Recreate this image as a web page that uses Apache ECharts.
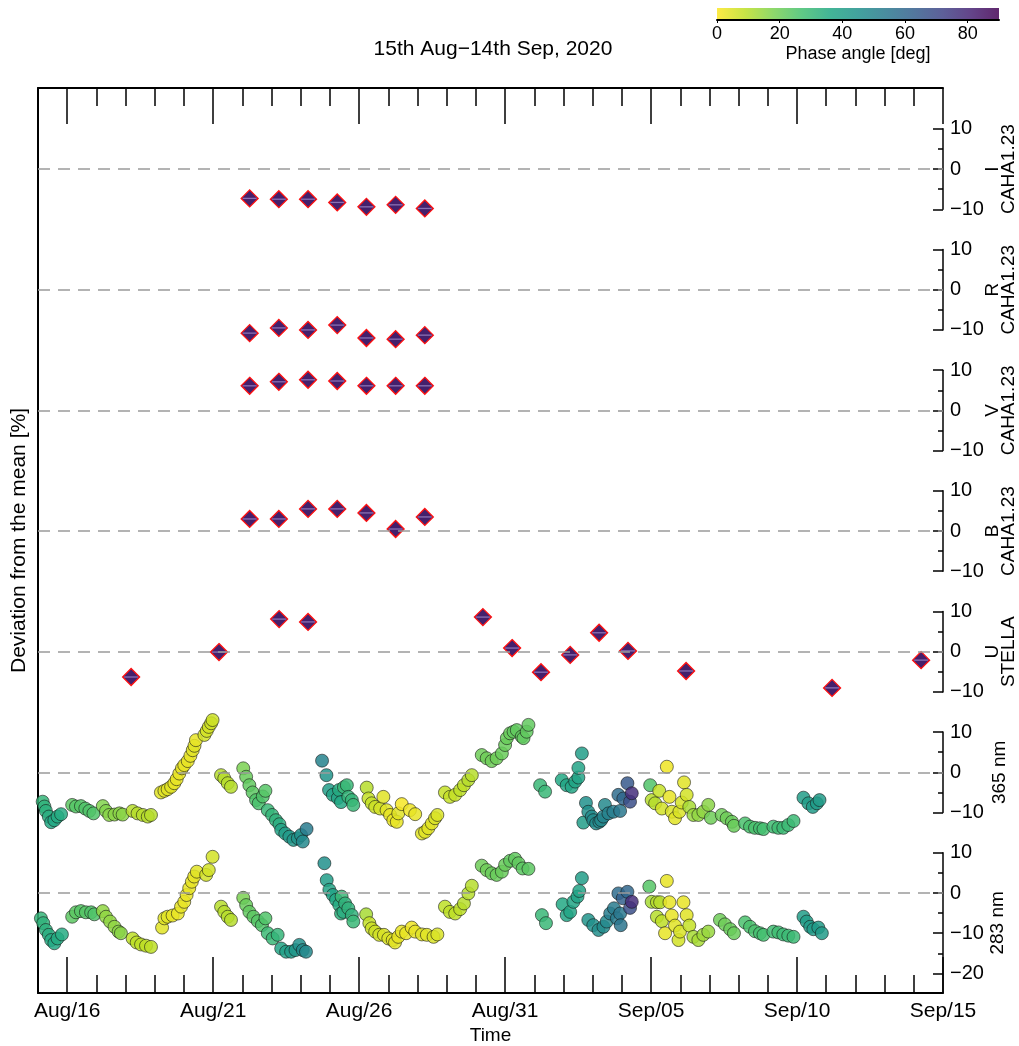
<!DOCTYPE html>
<html><head><meta charset="utf-8">
<script src="https://cdn.jsdelivr.net/npm/echarts@6/dist/echarts.min.js"></script>
<style>html,body{margin:0;padding:0;background:#fff}#c{width:1019px;height:1046px}</style>
</head><body><div id="c"></div>
<script>
// ---------- DATA (x = days since 2020-08-15 00:00 UTC) ----------
const xTickDays   = [1, 6, 11, 16, 21, 26, 31];
const xTickLabels = ['Aug/16', 'Aug/21', 'Aug/26', 'Aug/31', 'Sep/05', 'Sep/10', 'Sep/15'];
const xMinorDays  = [0,2,3,4,5,7,8,9,10,12,13,14,15,17,18,19,20,22,23,24,25,27,28,29,30];

const panelNames = ['I\nCAHA1.23', 'R\nCAHA1.23', 'V\nCAHA1.23', 'B\nCAHA1.23', 'U\nSTELLA', '365 nm', '283 nm'];

const cahaDays = [7.25, 8.25, 9.25, 10.25, 11.25, 12.25, 13.25];
const cahaI = [-7.3, -7.5, -7.5, -8.3, -9.4, -8.9, -9.8];
const cahaR = [-10.8, -9.5, -10.0, -8.8, -12.0, -12.3, -11.3];
const cahaV = [6.1, 7.1, 7.6, 7.3, 6.1, 6.1, 6.1];
const cahaB = [3.0, 3.0, 5.5, 5.5, 4.5, 0.5, 3.5];

const stellaDays = [3.19, 6.20, 8.26, 9.25, 15.24, 16.24, 17.23, 18.23, 19.22, 20.21, 22.20, 27.20, 30.25];
const stellaU    = [-6.3, -0.1, 8.1, 7.4, 8.6, 0.9, -5.1, -0.8, 4.7, 0.2, -4.8, -9.0, -2.1];

// [day, deviation %, phase angle deg]
const uv365 = [
[0.16,-7.3,31],[0.22,-8.5,32],[0.27,-9.6,33],[0.37,-11.0,34],[0.45,-12.4,36],[0.56,-11.9,36],[0.67,-11.0,35],[0.79,-10.4,35],
[1.17,-8.1,23],[1.30,-8.5,24],[1.47,-8.4,24],[1.62,-9.0,25],[1.76,-9.6,25],[1.90,-10.2,25],
[2.22,-8.4,17],[2.33,-9.6,17],[2.44,-10.6,16],[2.62,-10.5,16],[2.79,-10.2,16],[2.90,-10.5,16],
[3.24,-9.6,10],[3.41,-10.2,10],[3.59,-10.6,10],[3.76,-11.0,10],[3.87,-10.6,10],
[4.21,-5.0,4],[4.33,-4.6,4],[4.44,-4.2,4],[4.56,-3.6,4],[4.67,-2.7,3],[4.75,-1.7,3],[4.84,-0.3,3],[4.93,1.0,3],[5.01,1.8,3],[5.13,2.8,3],[5.22,4.1,3],[5.30,5.5,4],[5.36,6.6,4],[5.41,8.0,3],[5.70,9.3,6],[5.78,10.3,6],[5.85,11.3,6],[5.93,12.2,7],[5.98,13.0,7],
[6.27,-0.7,10],[6.38,-1.5,10],[6.50,-2.7,10],[6.61,-3.6,10],
[7.03,1.0,18],[7.13,-1.1,21],[7.24,-3.2,22],[7.35,-5.0,23],[7.47,-6.9,25],[7.56,-7.7,26],[7.70,-6.0,25],[7.79,-4.6,24],[7.87,-9.4,30],[8.02,-10.6,31],[8.15,-11.9,32],[8.27,-12.9,34],[8.33,-14.3,38],[8.47,-15.2,40],[8.61,-16.0,42],[8.75,-16.8,43],[8.90,-16.4,44],[9.01,-15.6,45],[9.07,-17.2,48],[9.20,-14.1,53],
[9.73,2.9,50],[9.88,-0.7,44],[9.97,-4.4,40],[10.10,-5.6,38],[10.27,-6.4,37],[10.31,-4.4,35],[10.38,-7.4,36],[10.48,-3.7,30],[10.58,-3.2,30],[10.63,-6.1,31],[10.75,-6.9,31],[10.80,-8.1,30],
[11.26,-3.8,10],[11.32,-6.5,8],[11.43,-7.7,8],[11.55,-8.6,7],[11.72,-9.0,6],[11.83,-6.1,4],[11.94,-9.4,4],[12.06,-10.6,3],[12.17,-11.9,3],[12.29,-12.3,3],[12.34,-10.2,4],[12.46,-7.9,1],[12.74,-9.4,2],[12.92,-10.4,3],
[13.15,-15.2,4],[13.26,-14.8,4],[13.37,-13.9,4],[13.49,-12.7,4],[13.60,-11.4,5],[13.68,-10.6,5],
[13.94,-5.0,8],[14.11,-6.1,8],[14.29,-5.6,8],[14.46,-4.4,9],[14.59,-3.2,9],[14.74,-1.9,10],[14.86,-0.7,10],
[15.20,4.3,20],[15.37,3.5,20],[15.54,2.8,20],[15.71,3.5,20],[15.89,4.7,21],[16.00,6.8,21],[16.06,8.5,21],[16.17,9.7,21],[16.29,10.1,22],[16.40,10.5,22],[16.57,8.9,22],[16.63,8.5,22],[16.74,10.1,22],[16.80,11.8,22],
[17.20,-3.2,30],[17.37,-4.8,30],
[17.94,-1.9,36],[18.11,-3.2,37],[18.28,-3.6,37],[18.40,-2.3,37],[18.51,-1.3,38],[18.51,1.1,38],[18.63,4.7,40],
[18.68,-12.5,40],[18.77,-7.6,45],[18.85,-9.8,45],[18.97,-11.0,47],[19.02,-11.9,47],[19.12,-12.7,47],[19.23,-12.3,48],[19.29,-11.9,48],[19.37,-11.0,50],[19.42,-8.1,48],[19.54,-10.2,50],[19.71,-9.8,52],[19.88,-5.6,58],[19.94,-9.6,54],[20.05,-6.5,60],[20.19,-2.7,65],[20.28,-7.3,68],[20.34,-5.2,78],
[20.97,-3.2,25],[21.02,-6.9,10],[21.14,-7.7,10],[21.28,-4.6,8],[21.37,-9.0,6],[21.54,1.4,2],[21.63,-6.1,3],[21.71,-9.8,5],[21.82,-11.4,4],[21.97,-9.8,5],[22.05,-7.5,6],[22.13,-2.5,4],[22.22,-5.6,6],[22.31,-8.6,12],[22.45,-10.6,14],[22.62,-10.6,15],[22.79,-9.8,15],[22.96,-8.1,16],[23.05,-11.3,20],
[23.42,-10.6,20],[23.59,-11.4,20],[23.77,-12.3,21],[23.84,-13.3,21],
[24.22,-12.7,26],[24.39,-13.5,26],[24.56,-13.8,26],[24.73,-13.9,27],[24.85,-14.1,27],
[25.19,-13.5,28],[25.36,-13.8,28],[25.53,-13.8,29],[25.70,-13.1,29],[25.88,-12.1,29],
[26.22,-6.3,40],[26.39,-7.7,40],[26.54,-8.6,41],[26.68,-7.7,41],[26.77,-6.9,41]
];

const uv283 = [
[0.10,-6.3,31],[0.18,-7.5,32],[0.27,-9.2,33],[0.37,-10.4,34],[0.45,-11.7,35],[0.56,-12.5,36],[0.67,-11.3,35],[0.82,-10.3,35],
[1.17,-5.9,23],[1.30,-4.8,23],[1.47,-4.5,24],[1.64,-4.8,24],[1.82,-4.8,25],[1.93,-5.3,25],
[2.22,-4.5,15],[2.33,-5.9,15],[2.47,-7.1,15],[2.62,-8.4,15],[2.76,-9.6,16],[2.84,-10.0,16],
[3.24,-11.3,9],[3.38,-12.3,9],[3.53,-12.8,9],[3.70,-13.1,9],[3.87,-13.4,9],
[4.25,-8.6,4],[4.33,-6.3,4],[4.44,-5.9,4],[4.61,-5.6,3],[4.79,-5.1,3],[4.90,-3.4,3],[5.01,-2.2,3],[5.09,-0.5,3],[5.18,1.2,3],[5.27,2.8,3],[5.35,4.1,3],[5.44,5.3,4],[5.76,4.5,6],[5.85,5.7,6],[5.98,9.0,6],
[6.27,-3.4,10],[6.38,-4.7,10],[6.50,-5.9,10],[6.61,-6.7,10],
[7.03,-1.2,18],[7.13,-3.0,21],[7.24,-4.7,22],[7.38,-5.9,23],[7.53,-7.0,24],[7.67,-8.0,25],[7.79,-6.3,25],[7.87,-10.0,29],[8.04,-11.3,30],[8.21,-10.4,31],[8.33,-13.8,37],[8.50,-14.6,39],[8.67,-14.6,41],[8.82,-14.2,43],[8.95,-12.9,45],[9.07,-14.2,47],[9.18,-14.6,48],
[9.81,7.4,45],[9.89,3.2,40],[9.98,0.8,38],[10.10,-0.5,38],[10.21,-1.7,36],[10.32,-3.0,35],[10.38,-5.1,33],[10.40,-0.9,30],[10.46,-4.7,34],[10.52,-2.6,32],[10.63,-3.8,32],[10.75,-5.5,32],[10.80,-7.1,30],
[11.24,-5.3,12],[11.35,-7.5,8],[11.43,-8.8,7],[11.55,-9.6,7],[11.69,-10.4,6],[11.85,-10.4,5],[12.00,-11.3,5],[12.15,-11.7,4],[12.23,-12.3,4],[12.34,-10.9,3],[12.46,-9.6,3],[12.61,-10.0,3],[12.80,-8.6,2],[12.92,-9.6,3],[13.15,-10.3,4],[13.32,-10.4,4],[13.55,-10.9,5],[13.68,-10.3,5],
[13.94,-3.4,9],[14.11,-4.7,9],[14.29,-5.1,9],[14.46,-4.0,9],[14.59,-2.6,10],[14.74,-0.1,10],[14.86,1.8,10],
[15.20,6.8,20],[15.37,5.7,20],[15.54,4.9,21],[15.71,4.5,21],[15.89,5.3,21],[16.00,7.0,21],[16.17,8.0,22],[16.34,8.5,22],[16.46,7.4,22],[16.60,6.1,23],[16.80,6.0,23],
[17.26,-5.5,30],[17.40,-7.5,30],
[17.97,-2.8,36],[18.11,-5.5,37],[18.23,-4.7,37],[18.34,-2.2,37],[18.48,-0.9,38],[18.54,0.5,38],[18.63,3.7,40],
[18.85,-6.7,44],[19.02,-8.0,45],[19.20,-9.2,46],[19.37,-8.4,47],[19.48,-7.1,48],[19.60,-5.1,52],[19.73,-3.8,53],[19.83,-6.3,53],[19.88,-0.1,58],[19.94,-5.1,54],[19.96,-8.0,55],[20.03,-1.3,62],[20.19,0.3,60],[20.28,-3.7,68],[20.34,-2.2,78],
[20.94,1.6,24],[21.02,-2.2,12],[21.20,-2.3,10],[21.20,-5.9,10],[21.31,-2.3,10],[21.37,-7.0,9],[21.48,-10.0,3],[21.54,3.0,3],[21.63,-2.3,3],[21.71,-5.6,3],[21.82,-8.1,4],[21.94,-11.7,6],[21.99,-9.6,5],[22.11,-2.3,3],[22.22,-5.5,4],[22.31,-8.1,8],[22.45,-10.9,12],[22.62,-11.7,12],[22.79,-10.4,13],[22.96,-9.6,14],
[23.36,-6.7,20],[23.53,-7.8,20],[23.71,-9.0,21],[23.84,-10.0,21],
[24.22,-7.3,26],[24.39,-8.4,26],[24.56,-9.5,26],[24.73,-10.0,27],[24.85,-10.4,27],
[25.19,-9.6,28],[25.36,-9.8,28],[25.53,-10.3,29],[25.70,-10.6,29],[25.88,-10.9,29],
[26.22,-5.9,40],[26.33,-7.1,40],[26.45,-8.4,41],[26.56,-9.0,41],[26.73,-8.6,41],[26.85,-10.0,41]
];

const phaseTicks = [0, 20, 40, 60, 80];
const viridisR = ['#fde725','#bddf26','#7ad151','#44bf70','#22a884','#21918c','#2a788e','#355f8d','#414487','#482475','#440154'];

// ---------- LAYOUT ----------
const FONT = '"Liberation Sans", Arial, Helvetica, sans-serif';
const L = 38, W = 905, TOP = 88, BOT = 993;
const PX = 4.022;                 // px per percent
const zeroY = [0,1,2,3,4,5,6].map(k => 893 - (6 - k) * 30 * PX);
const minus = v => v < 0 ? '\u2212' + Math.abs(v) : String(v);

const grids = [{left: L, top: TOP, width: W, height: BOT - TOP}];
const xAxes = [], yAxes = [], series = [];

const tickLine = {color: '#000', width: 1.5};
xAxes.push({gridIndex:0, type:'value', min:0, max:31, position:'bottom',
  axisLine:{show:true, onZero:false, lineStyle:{color:'#000', width:2}},
  axisTick:{show:true, inside:true, length:36, lineStyle:tickLine, customValues: xTickDays},
  axisLabel:{show:true, customValues: xTickDays, color:'#000', fontSize:21, fontFamily:FONT, margin:8,
    formatter: v => xTickLabels[xTickDays.indexOf(Math.round(v))] || ''},
  splitLine:{show:false},
  name:'Time', nameLocation:'middle', nameGap:33, nameMoveOverlap:false,
  nameTextStyle:{color:'#000', fontSize:19, fontFamily:FONT}});
xAxes.push({gridIndex:0, type:'value', min:0, max:31, position:'bottom',
  axisLine:{show:false, onZero:false}, axisTick:{show:true, inside:true, length:18, lineStyle:tickLine, customValues: xMinorDays},
  axisLabel:{show:false}, splitLine:{show:false}});
xAxes.push({gridIndex:0, type:'value', min:0, max:31, position:'top',
  axisLine:{show:true, onZero:false, lineStyle:{color:'#000', width:2}},
  axisTick:{show:true, inside:true, length:36, lineStyle:tickLine, customValues: xTickDays},
  axisLabel:{show:false}, splitLine:{show:false}});
xAxes.push({gridIndex:0, type:'value', min:0, max:31, position:'top',
  axisLine:{show:false, onZero:false}, axisTick:{show:true, inside:true, length:18, lineStyle:tickLine, customValues: xMinorDays},
  axisLabel:{show:false}, splitLine:{show:false}});
yAxes.push({gridIndex:0, type:'value', min:0, max:1, position:'left',
  axisLine:{show:true, onZero:false, lineStyle:{color:'#000', width:2}}, axisTick:{show:false}, axisLabel:{show:false}, splitLine:{show:false},
  name:'Deviation from the mean [%]', nameLocation:'middle', nameRotate:90, nameGap:8, nameMoveOverlap:false,
  nameTextStyle:{color:'#000', fontSize:21, fontFamily:FONT}});

const nameGaps = [42, 42, 42, 42, 42, 49, 47];
for (let k = 0; k < 7; k++) {
  const last = k === 6;
  const top = zeroY[k] - 10 * PX;
  const height = last ? BOT - top : 20 * PX;
  grids.push({left: L, width: W, top: top, height: height});
  const gi = k + 1;
  xAxes.push({gridIndex: gi, type:'value', min:0, max:31, show:false});
  const majors = last ? [-20, -10, 0, 10] : [-10, 0, 10];
  const minors = last ? [-15, -5, 5] : [-5, 5];
  const ymin = last ? -(BOT - zeroY[k]) / PX : -10;
  yAxes.push({gridIndex: gi, type:'value', min: ymin, max: 10, position:'right',
    axisLine:{show:true, onZero:false, lineStyle:{color:'#000', width:1.5}},
    axisTick:{show:true, inside:true, length:10, lineStyle:tickLine, customValues: majors},
    axisLabel:{show:true, customValues: majors, color:'#000', fontSize:20, fontFamily:FONT, margin:7, formatter: minus},
    splitLine:{show:false},
    name: panelNames[k], nameLocation:'middle', nameRotate:90, nameGap: nameGaps[k], nameMoveOverlap:false,
    nameTextStyle:{color:'#000', fontSize:19, fontFamily:FONT, lineHeight:16, align:'center'}});
  yAxes.push({gridIndex: gi, type:'value', min: ymin, max: 10, position:'right',
    axisLine:{show:false, onZero:false}, axisTick:{show:true, inside:true, length:5, lineStyle:tickLine, customValues: minors},
    axisLabel:{show:false}, splitLine:{show:false}});
}
const panelX = k => 4 + k;
const panelY = k => 1 + 2 * k;

const zeroLine = {silent:true, symbol:['none','none'], label:{show:false},
  lineStyle:{type:[12,8], color:'#9a9a9a', width:1.5}, data:[{yAxis:0}]};

function diamondSeries(k, days, vals) {
  const data = days.map((d, i) => [d, vals[i]]);
  series.push({type:'scatter', xAxisIndex: panelX(k), yAxisIndex: panelY(k), data,
    symbol:'diamond', symbolSize:17, clip:false, z:3,
    itemStyle:{color:'#44206c', opacity:1, borderColor:'#ff1010', borderWidth:1.3},
    markLine: zeroLine});
  series.push({type:'scatter', xAxisIndex: panelX(k), yAxisIndex: panelY(k), data,
    symbol:'rect', symbolSize:[14, 1.3], clip:false, z:4, silent:true,
    itemStyle:{color:'#8a70b4', opacity:1}});
}
diamondSeries(0, cahaDays, cahaI);
diamondSeries(1, cahaDays, cahaR);
diamondSeries(2, cahaDays, cahaV);
diamondSeries(3, cahaDays, cahaB);
diamondSeries(4, stellaDays, stellaU);

const uvStyle = {opacity:0.85, borderColor:'rgba(20,20,20,0.85)', borderWidth:0.8};
const s365 = series.length;
series.push({type:'scatter', xAxisIndex: panelX(5), yAxisIndex: panelY(5), data: uv365,
  symbolSize:13, clip:false, z:3, itemStyle: uvStyle, markLine: zeroLine});
const s283 = series.length;
series.push({type:'scatter', xAxisIndex: panelX(6), yAxisIndex: panelY(6), data: uv283,
  symbolSize:13, clip:false, z:3, itemStyle: uvStyle, markLine: zeroLine});

// colorbar axis
const cbLeft = 717, cbTop = 8, cbW = 282, cbH = 12;
grids.push({left: cbLeft, top: cbTop, width: cbW, height: cbH});
const cbGrid = grids.length - 1;
xAxes.push({gridIndex: cbGrid, type:'value', min:0, max:90, position:'bottom',
  axisLine:{show:true, onZero:false, lineStyle:{color:'#000', width:2}},
  axisTick:{show:true, inside:false, length:3, lineStyle:{color:'#000', width:1}, customValues: phaseTicks},
  axisLabel:{show:true, customValues: phaseTicks, color:'#000', fontSize:18, fontFamily:FONT, margin:5},
  splitLine:{show:false},
  name:'Phase angle [deg]', nameLocation:'middle', nameGap:25, nameMoveOverlap:false,
  nameTextStyle:{color:'#000', fontSize:18, fontFamily:FONT}});
yAxes.push({gridIndex: cbGrid, type:'value', show:false});

const gradStops = viridisR.map((c, i) => ({offset: i / (viridisR.length - 1), color: c}));

const option = {
  animation:false,
  backgroundColor:'#fff',
  textStyle:{fontFamily:FONT},
  title:{text:'15th Aug\u221214th Sep, 2020', left:488, top:34, textAlign:'center',
    textStyle:{color:'#000', fontSize:21, fontWeight:'normal', fontFamily:FONT}},
  grid: grids.map(g => Object.assign({containLabel:false, outerBoundsMode:'none'}, g)),
  xAxis: xAxes, yAxis: yAxes, series,
  visualMap:{type:'continuous', show:false, min:0, max:90, dimension:2, seriesIndex:[s365, s283],
    inRange:{color: viridisR}},
  graphic:[{type:'rect', shape:{x:cbLeft, y:cbTop, width:cbW, height:cbH},
    style:{fill:{type:'linear', x:0, y:0, x2:1, y2:0, colorStops: gradStops}, opacity:0.85}, z:-1}]
};
const chart = echarts.init(document.getElementById('c'), null, {renderer:'canvas'});
chart.setOption(option);
</script></body></html>
